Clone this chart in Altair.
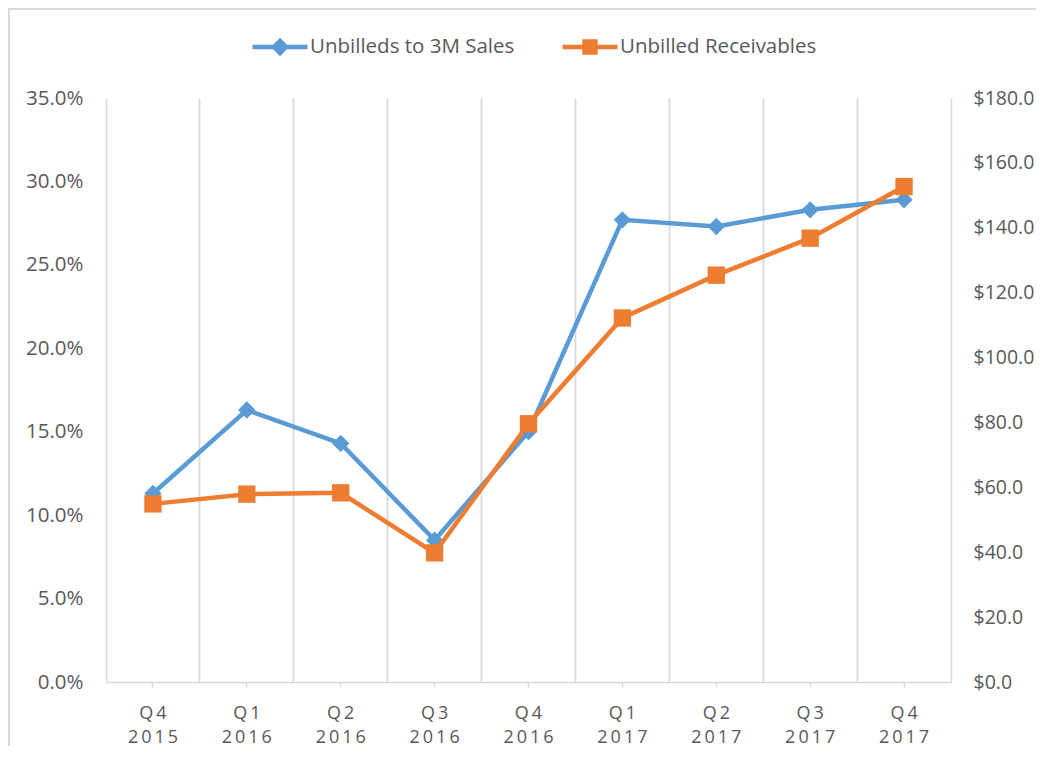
import altair as alt
import pandas as pd

# ---- data ----
quarters = ["Q4", "Q1", "Q2", "Q3", "Q4", "Q1", "Q2", "Q3", "Q4"]
years = ["2015", "2016", "2016", "2016", "2016", "2017", "2017", "2017", "2017"]
unbilled_ratio_pct = [11.3, 16.3, 14.3, 8.5, 15.0, 27.7, 27.3, 28.3, 28.9]
unbilled_receivables = [54.9, 57.9, 58.3, 39.8, 79.6, 112.2, 125.4, 136.8, 152.7]
series_names = ["Unbilleds to 3M Sales", "Unbilled Receivables"]
series_colors = ["#5B9BD5", "#ED7D31"]
pct_ticks = [0, 0.05, 0.10, 0.15, 0.20, 0.25, 0.30, 0.35]
usd_ticks = [0, 20, 40, 60, 80, 100, 120, 140, 160, 180]

periods = [f"{q} {y}" for q, y in zip(quarters, years)]
df_ratio = pd.DataFrame({"period": periods,
                         "value": [v / 100 for v in unbilled_ratio_pct],
                         "series": series_names[0]})
df_rec = pd.DataFrame({"period": periods,
                       "value": unbilled_receivables,
                       "series": series_names[1]})

FONT = "Open Sans"
TXT = "#595959"
GRID = "#D9D9D9"

xscale = alt.Scale(type="band", domain=periods, paddingInner=0, paddingOuter=0)

axis_grid_start = alt.Axis(orient="bottom", bandPosition=0, grid=True, gridColor=GRID,
                           gridWidth=1.5, labels=False, ticks=False, domain=True,
                           domainColor=GRID, domainWidth=1.5, title=None)
axis_grid_end = alt.Axis(orient="top", bandPosition=1, grid=True, gridColor=GRID,
                         gridWidth=1.5, labels=False, ticks=False, domain=False, title=None)
label_expr = "split(join(split(datum.label, ''), '\u2009'), '\u2009 \u2009')"
axis_labels = alt.Axis(orient="bottom", bandPosition=0.5, grid=False, domain=False,
                       ticks=True, tickColor=GRID, tickWidth=1.5, tickSize=5,
                       labelExpr=label_expr, labelFont=FONT, labelFontSize=18,
                       labelColor=TXT, labelLineHeight=24, labelPadding=17,
                       labelAngle=0, title=None)

yl_scale = alt.Scale(domain=[0, 0.35], nice=False, zero=True)
yr_scale = alt.Scale(domain=[0, 180], nice=False, zero=True)
axis_left = alt.Axis(orient="left", values=pct_ticks, format=".1%", grid=False,
                     domain=False, ticks=False, tickSize=0, labelPadding=23,
                     labelFont=FONT, labelFontSize=20.5, labelColor=TXT, title=None)
axis_right = alt.Axis(orient="right", values=usd_ticks, format="$.1f", grid=False,
                      domain=False, ticks=False, tickSize=0, labelPadding=22,
                      labelFont=FONT, labelFontSize=19.5, labelColor=TXT, title=None)

DIAMOND = "M-1,0L1,0M0,-0.22L0.22,0L0,0.22L-0.22,0Z"
SQUARE = "M-1,0L1,0M-0.2,-0.2L0.2,-0.2L0.2,0.2L-0.2,0.2Z"


def make_legend(x, path, col):
    return alt.Legend(
        orient="none", legendX=x, legendY=-81, direction="horizontal", title=None,
        symbolType=path, symbolSize=3025, symbolStrokeWidth=4.5,
        symbolFillColor=col, symbolStrokeColor=col, symbolOpacity=1,
        labelFont=FONT, labelFontSize=20.5, labelColor=TXT, labelOffset=0, padding=0,
        labelLimit=0,
    )


color_blue = alt.Color("series:N",
                       scale=alt.Scale(domain=[series_names[0]], range=[series_colors[0]]),
                       legend=make_legend(144, DIAMOND, series_colors[0]))
color_orange = alt.Color("series:N",
                         scale=alt.Scale(domain=[series_names[1]], range=[series_colors[1]]),
                         legend=make_legend(454, SQUARE, series_colors[1]))

blue_line = alt.Chart(df_ratio).mark_line(strokeWidth=4.5).encode(
    x=alt.X("period:N", scale=xscale, bandPosition=0.5, axis=axis_grid_start, sort=periods),
    y=alt.Y("value:Q", scale=yl_scale, axis=axis_left),
    color=color_blue,
)
blue_pts = alt.Chart(df_ratio).mark_point(shape="diamond", filled=True, size=300,
                                          opacity=1, color=series_colors[0]).encode(
    x=alt.X("period:N", scale=xscale, bandPosition=0.5, axis=axis_labels, sort=periods),
    y=alt.Y("value:Q", scale=yl_scale, axis=None),
)
orange_line = alt.Chart(df_rec).mark_line(strokeWidth=4.5).encode(
    x=alt.X("period:N", scale=xscale, bandPosition=0.5, axis=axis_grid_end, sort=periods),
    y=alt.Y("value:Q", scale=yr_scale, axis=axis_right),
    color=color_orange,
)
orange_pts = alt.Chart(df_rec).mark_point(shape="square", filled=True, size=300,
                                          opacity=1, color=series_colors[1]).encode(
    x=alt.X("period:N", scale=xscale, bandPosition=0.5, axis=None, sort=periods),
    y=alt.Y("value:Q", scale=yr_scale, axis=None),
)

# light chart border (left and top edges)
border_left = alt.Chart(df_ratio).mark_rule(color=GRID, strokeWidth=1.5).encode(
    x=alt.value(-97.2), y=alt.value(-89.2), y2=alt.value(700))
border_top = alt.Chart(df_ratio).mark_rule(color=GRID, strokeWidth=1.5).encode(
    x=alt.value(-97.2), x2=alt.value(950), y=alt.value(-89.2))

chart = alt.layer(
    blue_line, blue_pts, orange_line, orange_pts, border_left, border_top
).resolve_scale(y="independent", color="independent").resolve_axis(
    x="independent", y="independent"
).properties(
    width=845, height=584,
    autosize=alt.AutoSizeParams(type="none"),
    padding={"left": 98, "top": 90, "right": 85, "bottom": 64},
).configure_view(stroke=None)

chart.save("out.html", embed_options={"renderer": "svg", "actions": False})
